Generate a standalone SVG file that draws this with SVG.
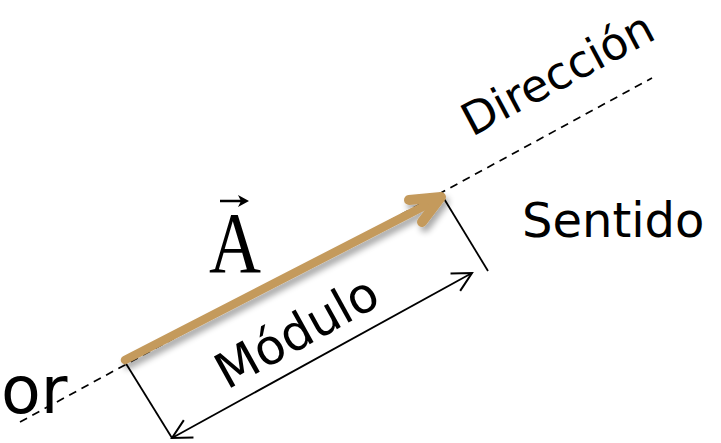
<svg xmlns="http://www.w3.org/2000/svg" width="721" height="443" viewBox="0 0 721 443">
  <defs>
    <style>
      .lbl { font-family: "DejaVu Sans", Verdana, sans-serif; fill: #000; }
      .dash { stroke: #000; stroke-width: 1.7; stroke-dasharray: 8 6; fill: none; }
      .thin { stroke: #000; stroke-width: 1.8; fill: none; }
      .vec { stroke: #C49A5C; fill: none; stroke-linecap: round; stroke-linejoin: round; }
    </style>
    <marker id="chev" markerUnits="userSpaceOnUse" markerWidth="30" markerHeight="30" refX="0" refY="0" viewBox="-22 -15 30 30" orient="auto-start-reverse" overflow="visible">
      <path d="M-19,-10 L0,0 L-19,10" fill="none" stroke="#000" stroke-width="2"/>
    </marker>
    <filter id="shadow" x="-20%" y="-20%" width="140%" height="160%">
      <feGaussianBlur in="SourceAlpha" stdDeviation="3"/>
      <feOffset dx="3" dy="5" result="b"/>
      <feComponentTransfer><feFuncA type="linear" slope="0.35"/></feComponentTransfer>
      <feMerge><feMergeNode/><feMergeNode in="SourceGraphic"/></feMerge>
    </filter>
  </defs>
  <rect width="721" height="443" fill="#fff"/>

  <g id="connectors">
    <line id="direction-line" class="dash" x1="20" y1="422" x2="652" y2="78"/>
    <line id="perp-start" class="thin" x1="125" y1="362" x2="172" y2="438"/>
    <line id="perp-end" class="thin" x1="443" y1="197" x2="488" y2="271"/>
    <line id="modulo-arrow" class="thin" x1="172" y1="438" x2="472" y2="273" marker-start="url(#chev)" marker-end="url(#chev)"/>
  </g>

  <g id="vector-A" filter="url(#shadow)">
    <line class="vec" stroke-width="8.5" x1="125" y1="360" x2="436" y2="200"/>
    <path class="vec" stroke-width="10" d="M409,200 L441,197 L422,222"/>
  </g>

  <g id="label-A">
    <text x="0" y="0" transform="translate(209,272) scale(1,1.19)" font-family="'Liberation Serif', 'Times New Roman', serif" font-size="72" fill="#000">A</text>
    <line x1="220" y1="201" x2="241" y2="201" stroke="#000" stroke-width="2.5"/>
    <path d="M249,201 L238,195 L241,201 L238,207 Z" fill="#000"/>
  </g>

  <g id="label-direccion">
    <text class="lbl" font-size="45" transform="translate(472,137) rotate(-28)">Dirección</text>
  </g>
  <g id="label-sentido">
    <text class="lbl" font-size="48" x="522" y="237">Sentido</text>
  </g>
  <g id="label-modulo">
    <text class="lbl" font-size="49" transform="translate(227,390) rotate(-29)">Módulo</text>
  </g>
  <g id="label-or">
    <text class="lbl" font-size="65" x="1" y="413">or</text>
  </g>
</svg>
